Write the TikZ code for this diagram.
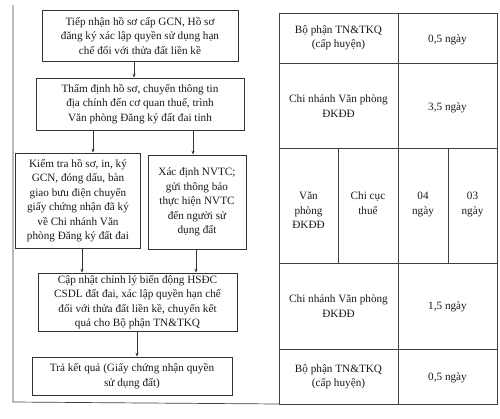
\documentclass[tikz,border=0pt]{standalone}
\usepackage{fontspec}
\setmainfont{Liberation Serif}
\usetikzlibrary{arrows.meta}
\begin{document}
\begin{tikzpicture}[x=1pt,y=-1pt,
  every node/.style={font=\fontsize{11.2}{14.5}\selectfont, text=black!90, inner sep=0pt},
  flowbox/.style={draw=black!80, line width=0.7pt, align=center, anchor=center},
  arr/.style={draw=black!80, line width=0.6pt, -{Stealth[length=4pt,width=3pt]}},
  grid/.style={draw=black!75, line width=0.7pt},
  cell/.style={align=center}]
\useasboundingbox (0,0) rectangle (500,418);
% outer frame of the left panel
\coordinate (ftop) at (13,5);
\coordinate (fcorner) at (13,402);
\coordinate (fend) at (279,404);
\draw[grid] (ftop) -- (fcorner) -- (fend);
% flow chart
\node[flowbox, minimum width=196, minimum height=51] (b1) at (140,35.5)
  {Tiếp nhận hồ sơ cấp GCN, Hồ sơ\\đăng ký xác lập quyền sử dụng hạn\\chế đối với thửa đất liền kề};
\node[flowbox, minimum width=208, minimum height=52] (b2) at (140,104)
  {Thẩm định hồ sơ, chuyển thông tin\\địa chính đến cơ quan thuế, trình\\Văn phòng Đăng ký đất đai tỉnh};
\node[flowbox, minimum width=125, minimum height=95] (b3a) at (78,200.5)
  {Kiểm tra hồ sơ, in, ký\\GCN, đóng dấu, bàn\\giao bưu điện chuyển\\giấy chứng nhận đã ký\\về Chi nhánh Văn\\phòng Đăng ký đất đai};
\node[flowbox, minimum width=98, minimum height=94] (b3b) at (197,202)
  {Xác định NVTC;\\gửi thông báo\\thực hiện NVTC\\đến người sử\\dụng đất};
\node[flowbox, minimum width=199, minimum height=58] (b4) at (137.5,302)
  {Cập nhật chỉnh lý biến động HSĐC\\CSDL đất đai, xác lập quyền hạn chế\\đối với thửa đất liền kề, chuyển kết\\quả cho Bộ phận TN\&TKQ};
\node[flowbox, minimum width=200, minimum height=38] (b5) at (132,376)
  {Trả kết quả (Giấy chứng nhận quyền\\sử dụng đất)};
% connectors
\draw[arr] (b1.south -| 134,0) -- (b2.north -| 134,0);
\draw[arr] (b2.south -| 93,0) -- (b3a.north -| 93,0);
\draw[arr] (b2.south -| 193,0) -- (b3b.north -| 193,0);
\draw[arr] (b3a.south -| 82,0) -- (b4.north -| 82,0);
\draw[arr] (b3b.south -| 196,0) -- (b4.north -| 196,0);
\draw[arr] (b4.south -| 137,0) -- (b5.north -| 137,0);
% table grid
\draw[grid] (279,13) rectangle (497,404);
\draw[grid] (279,63) -- (497,63);
\draw[grid] (279,148) -- (497,148);
\draw[grid] (279,263) -- (497,263);
\draw[grid] (279,349) -- (497,349);
\draw[grid] (398,13) -- (398,404);
\draw[grid] (338,148) -- (338,263);
\draw[grid] (448,148) -- (448,263);
% table texts
\node[cell] (t1a) at (338.5,38) {Bộ phận TN\&TKQ\\(cấp huyện)};
\node[cell] (t1b) at (447.5,40) {0,5 ngày};
\node[cell] (t2a) at (338.5,106) {Chi nhánh Văn phòng\\ĐKĐĐ};
\node[cell] (t2b) at (447.5,108) {3,5 ngày};
\node[cell, anchor=north] (t3a) at (308.5,192) {Văn\\phòng\\ĐKĐĐ};
\node[cell, anchor=north] (t3b) at (368,192) {Chi cục\\thuế};
\node[cell, anchor=north] (t3c) at (423,192) {04\\ngày};
\node[cell, anchor=north] (t3d) at (472.5,192) {03\\ngày};
\node[cell] (t4a) at (338.5,306) {Chi nhánh Văn phòng\\ĐKĐĐ};
\node[cell] (t4b) at (447.5,307) {1,5 ngày};
\node[cell] (t5a) at (338.5,377) {Bộ phận TN\&TKQ\\(cấp huyện)};
\node[cell] (t5b) at (447.5,378) {0,5 ngày};
\end{tikzpicture}
\end{document}
